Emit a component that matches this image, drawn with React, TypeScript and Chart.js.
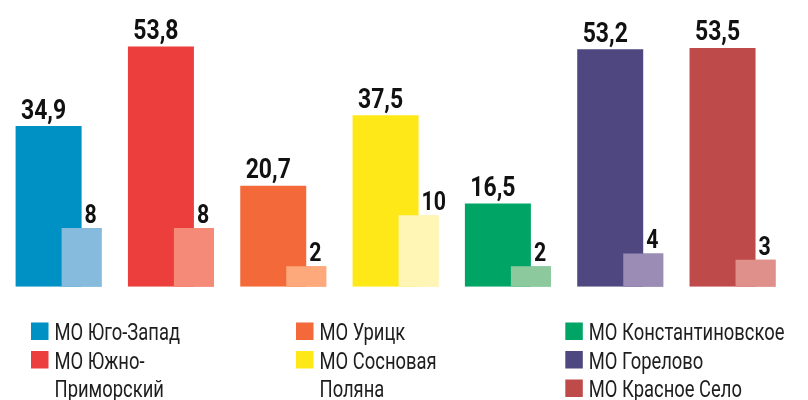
import React, { useEffect, useRef } from "react";
import { Chart, registerables } from "chart.js";

Chart.register(...registerables);

// ---- data ----
const categories = [
  "МО Юго-Запад",
  "МО Южно-Приморский",
  "МО Урицк",
  "МО Сосновая Поляна",
  "МО Константиновское",
  "МО Горелово",
  "МО Красное Село",
];
const legendLines = [
  ["МО Юго-Запад"],
  ["МО Южно-", "Приморский"],
  ["МО Урицк"],
  ["МО Сосновая", "Поляна"],
  ["МО Константиновское"],
  ["МО Горелово"],
  ["МО Красное Село"],
];
const mainValues = [34.9, 53.8, 20.7, 37.5, 16.5, 53.2, 53.5];
const secondValues = [8, 8, 2, 10, 2, 4, 3];

// ---- styles ----
const mainColors = ["#0091C4", "#EC3E3C", "#F4693A", "#FFE818", "#00A565", "#4F4880", "#BF4A4A"];
const lightColors = ["#86BBDD", "#F68A78", "#FDA97C", "#FFF5B5", "#8CCA9E", "#9A8CB5", "#E0908A"];

const mainAxis = { min: -3.28, max: 60.13 };
const secondAxis = { min: -1.21, max: 40.63 };

const categoryPct = 0.5876;

const fmt = (v: number) => String(v).replace(".", ",");

const drawScaledText = (
  ctx: CanvasRenderingContext2D,
  text: string,
  x: number,
  y: number,
  align: CanvasTextAlign,
  sx: number
) => {
  ctx.save();
  ctx.translate(x, y);
  ctx.scale(sx, 1);
  ctx.textAlign = align;
  ctx.textBaseline = "alphabetic";
  ctx.fillText(text, 0, 0);
  ctx.restore();
};

const overlayPlugin = {
  id: "overlay",
  afterDatasetsDraw(chart: any) {
    const ctx: CanvasRenderingContext2D = chart.ctx;
    // small bars in front of the tall ones
    chart.getDatasetMeta(1).data.forEach((el: any) => el.draw(ctx));

    ctx.save();
    ctx.fillStyle = "#111111";
    ctx.font = "700 28px Roboto";
    chart.getDatasetMeta(0).data.forEach((el: any, i: number) => {
      drawScaledText(ctx, fmt(mainValues[i]), el.x - 5, el.y - 7.5, "center", 0.82);
    });
    ctx.font = "700 26px Roboto";
    chart.getDatasetMeta(1).data.forEach((el: any, i: number) => {
      drawScaledText(ctx, fmt(secondValues[i]), el.x + 3, el.y - 5, "left", 0.82);
    });
    ctx.restore();
  },
  afterDraw(chart: any) {
    const ctx: CanvasRenderingContext2D = chart.ctx;
    const colX = [31, 296, 565.3];
    const firstBaseline = 340;
    const pitch = 28.5;
    const sq = 17.5;
    const maxLines = 3;
    ctx.save();
    ctx.font = "400 23px Roboto";
    let col = 0;
    let line = 0;
    legendLines.forEach((lines, i) => {
      if (line + lines.length > maxLines) {
        col += 1;
        line = 0;
      }
      const x = colX[col];
      const base = firstBaseline + line * pitch;
      ctx.fillStyle = mainColors[i];
      ctx.fillRect(x, base - sq, sq, sq);
      ctx.fillStyle = "#1e1e1e";
      lines.forEach((t, k) => {
        drawScaledText(ctx, t, x + 23.5, base + k * pitch, "left", 0.8);
      });
      line += lines.length;
    });
    ctx.restore();
  },
};

export default function App() {
  const ref = useRef<HTMLCanvasElement | null>(null);

  useEffect(() => {
    if (!ref.current) return;
    const chart = new Chart(ref.current, {
      type: "bar",
      data: {
        labels: categories,
        datasets: [
          {
            data: mainValues,
            backgroundColor: mainColors,
            yAxisID: "y",
            base: mainAxis.min,
            barPercentage: 2,
            categoryPercentage: categoryPct,
            borderWidth: 0,
          } as any,
          {
            data: secondValues,
            backgroundColor: lightColors,
            yAxisID: "y2",
            base: secondAxis.min,
            barPercentage: 40 / 33,
            categoryPercentage: categoryPct,
            borderWidth: 0,
          } as any,
        ],
      },
      options: {
        responsive: false,
        animation: false,
        layout: { padding: { left: 8.94, right: 12.8, top: 20, bottom: 113.3 } },
        scales: {
          x: { display: false },
          y: { display: false, min: mainAxis.min, max: mainAxis.max },
          y2: { display: false, min: secondAxis.min, max: secondAxis.max, position: "right" },
        },
        plugins: {
          legend: { display: false },
          tooltip: { enabled: false },
        },
      },
      plugins: [overlayPlugin],
    });
    return () => chart.destroy();
  }, []);

  return (
    <div style={{ position: "absolute", left: 0, top: 0, width: 808, height: 400, background: "#ffffff" }}>
      <canvas ref={ref} width={808} height={400} style={{ display: "block", width: 808, height: 400 }} />
    </div>
  );
}
